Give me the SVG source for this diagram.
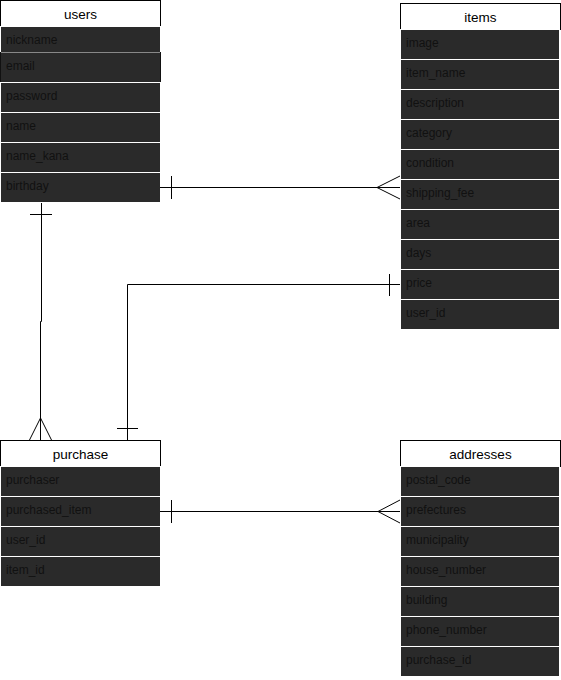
<svg xmlns="http://www.w3.org/2000/svg" width="561" height="680" viewBox="0 0 561 680">
<style>
.hdr{fill:#fff;stroke:#000;stroke-width:1}
.row{fill:#2a2a2a;stroke:#fff;stroke-width:1}
.ht{font-family:"Liberation Sans",Arial,sans-serif;font-size:13.5px;fill:#000;text-anchor:middle}
.rt{font-family:"Liberation Sans",Arial,sans-serif;font-size:12px;fill:#111}
.ln{fill:none;stroke:#000;stroke-width:1}
</style>
<rect x="0" y="0" width="561" height="680" fill="#fff"/>
<g id="users">
<rect class="hdr" x="0.5" y="0.5" width="160" height="26"/>
<text class="ht" x="80.5" y="18.5">users</text>
<rect class="row" x="0.5" y="26.5" width="160" height="26"/>
<rect class="row" x="0.5" y="52.5" width="160" height="30" style="stroke:#111"/>
<line x1="1" y1="52.5" x2="160" y2="52.5" stroke="#888"/>
<rect class="row" x="0.5" y="82.5" width="160" height="30"/>
<rect class="row" x="0.5" y="112.5" width="160" height="30"/>
<rect class="row" x="0.5" y="142.5" width="160" height="30"/>
<rect class="row" x="0.5" y="172.5" width="160" height="30"/>
<text class="rt" x="6" y="44">nickname</text>
<text class="rt" x="6" y="70">email</text>
<text class="rt" x="6" y="100">password</text>
<text class="rt" x="6" y="130">name</text>
<text class="rt" x="6" y="160">name_kana</text>
<text class="rt" x="6" y="190">birthday</text>
</g>
<g id="items">
<rect class="hdr" x="400.5" y="3.5" width="160" height="26"/>
<text class="ht" x="480.5" y="21.5">items</text>
<rect class="row" x="400.5" y="29.5" width="159" height="30"/>
<rect class="row" x="400.5" y="59.5" width="159" height="30"/>
<rect class="row" x="400.5" y="89.5" width="159" height="30"/>
<rect class="row" x="400.5" y="119.5" width="159" height="30"/>
<rect class="row" x="400.5" y="149.5" width="159" height="30"/>
<rect class="row" x="400.5" y="179.5" width="159" height="30"/>
<rect class="row" x="400.5" y="209.5" width="159" height="30"/>
<rect class="row" x="400.5" y="239.5" width="159" height="30"/>
<rect class="row" x="400.5" y="269.5" width="159" height="30"/>
<rect class="row" x="400.5" y="299.5" width="159" height="30"/>
<text class="rt" x="406" y="47">image</text>
<text class="rt" x="406" y="77">item_name</text>
<text class="rt" x="406" y="107">description</text>
<text class="rt" x="406" y="137">category</text>
<text class="rt" x="406" y="167">condition</text>
<text class="rt" x="406" y="197">shipping_fee</text>
<text class="rt" x="406" y="227">area</text>
<text class="rt" x="406" y="257">days</text>
<text class="rt" x="406" y="287">price</text>
<text class="rt" x="406" y="317">user_id</text>
</g>
<g id="purchase">
<rect class="hdr" x="0.5" y="440.5" width="160" height="26"/>
<text class="ht" x="80.5" y="458.5">purchase</text>
<rect class="row" x="0.5" y="466.5" width="160" height="30"/>
<rect class="row" x="0.5" y="496.5" width="160" height="30"/>
<rect class="row" x="0.5" y="526.5" width="160" height="30"/>
<rect class="row" x="0.5" y="556.5" width="160" height="30"/>
<text class="rt" x="6" y="484">purchaser</text>
<text class="rt" x="6" y="514">purchased_item</text>
<text class="rt" x="6" y="544">user_id</text>
<text class="rt" x="6" y="574">item_id</text>
</g>
<g id="addresses">
<rect class="hdr" x="400.5" y="440.5" width="160" height="26"/>
<text class="ht" x="480.5" y="458.5">addresses</text>
<rect class="row" x="400.5" y="466.5" width="159" height="30"/>
<rect class="row" x="400.5" y="496.5" width="159" height="30"/>
<rect class="row" x="400.5" y="526.5" width="159" height="30"/>
<rect class="row" x="400.5" y="556.5" width="159" height="30"/>
<rect class="row" x="400.5" y="586.5" width="159" height="30"/>
<rect class="row" x="400.5" y="616.5" width="159" height="30"/>
<rect class="row" x="400.5" y="646.5" width="159" height="30"/>
<text class="rt" x="406" y="484">postal_code</text>
<text class="rt" x="406" y="514">prefectures</text>
<text class="rt" x="406" y="544">municipality</text>
<text class="rt" x="406" y="574">house_number</text>
<text class="rt" x="406" y="604">building</text>
<text class="rt" x="406" y="634">phone_number</text>
<text class="rt" x="406" y="664">purchase_id</text>
</g>
<g id="connectors">
<path class="ln" d="M160 187.5 H400"/>
<path class="ln" d="M171.5 176 V199"/>
<path class="ln" d="M400 176 L377 187.5 L400 199"/>
<path class="ln" d="M41.5 203 V321.5 H40.5 V440"/>
<path class="ln" d="M30 214.5 H52"/>
<path class="ln" d="M29.5 440 L40.5 418 L51.5 440"/>
<path class="ln" d="M400 284.5 H127.5 V440"/>
<path class="ln" d="M389.5 274 V296"/>
<path class="ln" d="M117 428.5 H138"/>
<path class="ln" d="M160 511.5 H400"/>
<path class="ln" d="M171.5 500 V523"/>
<path class="ln" d="M400 500 L378 511.5 L400 523"/>
</g>
</svg>
